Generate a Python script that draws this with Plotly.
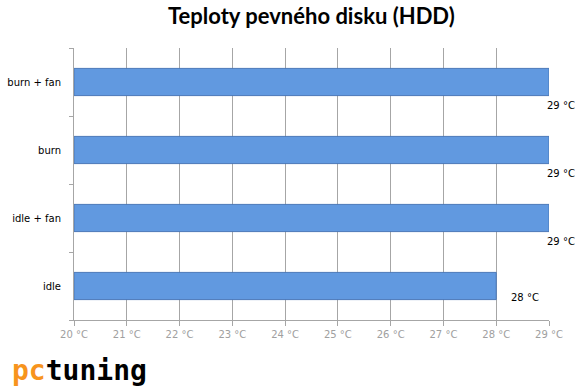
import plotly.graph_objects as go

categories = ["idle", "idle + fan", "burn", "burn + fan"]
values = [28, 29, 29, 29]
tick_values = [20, 21, 22, 23, 24, 25, 26, 27, 28, 29]
tick_labels = [f"{v} °C" for v in tick_values]
title_text = "Teploty pevného disku (HDD)"

x_min, x_max = 20, 29

fig = go.Figure()
fig.add_trace(go.Bar(
    y=categories, x=[v - x_min for v in values], base=x_min, orientation="h",
    width=0.4,
    marker=dict(color="#6199e0", line=dict(color="#4a78b8", width=1)),
    hoverinfo="skip",
))

annotations = []
for c, v in zip(categories, values):
    if v >= x_max:
        xs, ys = -4, -23
    else:
        xs, ys = 13, -11
    annotations.append(dict(x=v, y=c, xref="x", yref="y", text=f"{v} °C",
                            showarrow=False, xshift=xs, yshift=ys, xanchor="left",
                            font=dict(family="DejaVu Sans", size=10, color="#000000")))

annotations.append(dict(x=0.5, y=1, xref="paper", yref="paper", text="<b>" + title_text + "</b>",
                        showarrow=False, yshift=33, yanchor="middle",
                        font=dict(family="Lato", size=22, color="#000000")))
annotations.append(dict(x=0, y=0, xref="paper", yref="paper", xanchor="left", yanchor="middle",
                        xshift=-64, yshift=-50,
                        text="<b><span style='color:#f7941d'>pc</span>tuning</b>", showarrow=False,
                        font=dict(family="DejaVu Sans Mono", size=28, color="#000000")))

fig.update_layout(
    template="none",
    width=577, height=388,
    margin=dict(l=74, r=28, t=48, b=68, autoexpand=False),
    paper_bgcolor="white", plot_bgcolor="white",
    showlegend=False,
    annotations=annotations,
    xaxis=dict(range=[x_min, x_max], tickvals=tick_values, ticktext=tick_labels,
               automargin=False,
               showgrid=True, gridcolor="#a6a6a6", gridwidth=1,
               showline=True, linecolor="#a6a6a6", linewidth=1,
               ticks="outside", ticklen=5, tickcolor="#a6a6a6",
               tickfont=dict(family="DejaVu Sans", size=10, color="#a0a0a0"),
               zeroline=False, fixedrange=True),
    yaxis=dict(type="category", categoryorder="array", categoryarray=categories,
               automargin=False,
               showline=True, linecolor="#a6a6a6", linewidth=1,
               ticks="outside", ticklen=4, tickcolor="#a6a6a6", tickson="boundaries",
               showgrid=False, zeroline=False,
               tickfont=dict(family="DejaVu Sans", size=10, color="#000000"),
               ticklabelstandoff=10, fixedrange=True),
)

# remove the browser's default 8px page margin so the chart fills the window exactly
fig.write_html("out.html", config={"displayModeBar": False},
               post_script="document.body.style.margin='0px';document.body.style.overflow='hidden';")
